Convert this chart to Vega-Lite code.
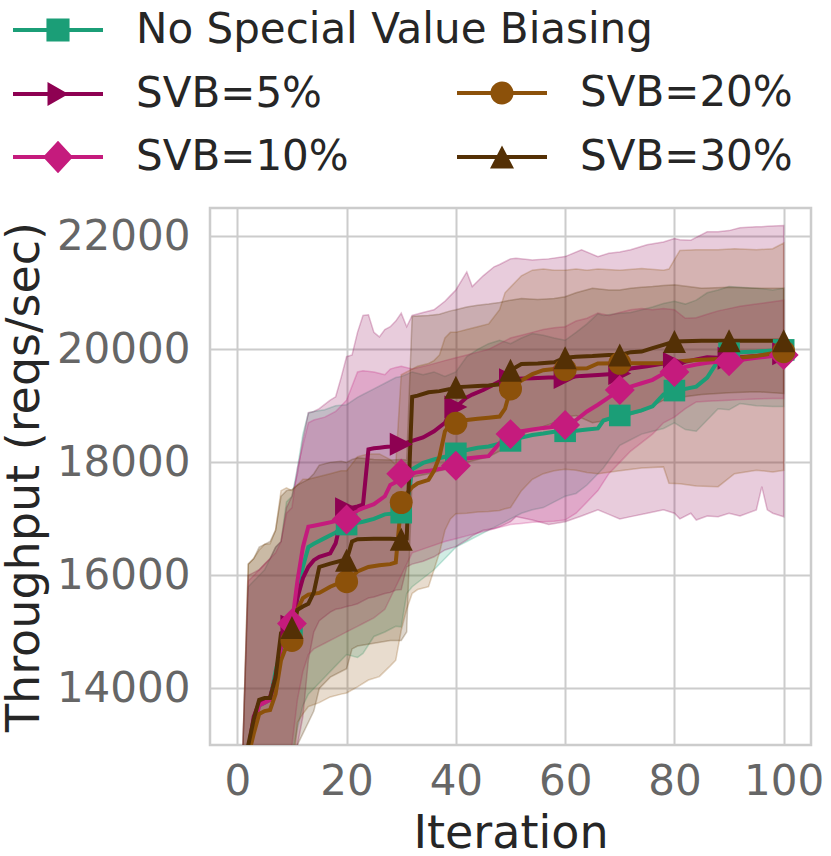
{
  "$schema": "https://vega.github.io/schema/vega-lite/v6.json",
  "width": 601,
  "height": 537,
  "autosize": "none",
  "padding": {"left": 210, "top": 208, "right": 20, "bottom": 111},
  "config": {
    "font": "DejaVu Sans",
    "view": {"stroke": "#cccccc", "strokeWidth": 2.5},
    "axis": {
      "grid": true, "gridColor": "#cccccc", "gridWidth": 2,
      "domain": false, "ticks": false,
      "labelFont": "DejaVu Sans", "labelFontSize": 42, "labelColor": "#666666",
      "titleFont": "DejaVu Sans", "titleFontSize": 46, "titleFontWeight": "normal", "titleColor": "#262626"
    },
    "legend": {
      "orient": "none", "padding": 0,
      "labelFont": "DejaVu Sans", "labelFontSize": 42, "labelColor": "#262626", "labelLimit": 1000,
      "symbolSize": 900, "symbolOffset": 37, "labelOffset": 57
    }
  },
  "data": {
    "values": [
      {"s": "No Special Value Biasing", "i": 0, "m": 10500, "lo": 7500, "hi": 11000},
      {"s": "No Special Value Biasing", "i": 1, "m": 12000, "lo": 9000, "hi": 12900},
      {"s": "No Special Value Biasing", "i": 2, "m": 12900, "lo": 9900, "hi": 15800},
      {"s": "No Special Value Biasing", "i": 3, "m": 13400, "lo": 10300, "hi": 15900},
      {"s": "No Special Value Biasing", "i": 4, "m": 13700, "lo": 10600, "hi": 16000},
      {"s": "No Special Value Biasing", "i": 5, "m": 13750, "lo": 10700, "hi": 16100},
      {"s": "No Special Value Biasing", "i": 6, "m": 13800, "lo": 10900, "hi": 16300},
      {"s": "No Special Value Biasing", "i": 7, "m": 14300, "lo": 11200, "hi": 16500},
      {"s": "No Special Value Biasing", "i": 8, "m": 14700, "lo": 11500, "hi": 16600},
      {"s": "No Special Value Biasing", "i": 9, "m": 14900, "lo": 12100, "hi": 17300},
      {"s": "No Special Value Biasing", "i": 10, "m": 15000, "lo": 12800, "hi": 17400},
      {"s": "No Special Value Biasing", "i": 11, "m": 15600, "lo": 13300, "hi": 17900},
      {"s": "No Special Value Biasing", "i": 12, "m": 16150, "lo": 13700, "hi": 18500},
      {"s": "No Special Value Biasing", "i": 13, "m": 16500, "lo": 13900, "hi": 18870},
      {"s": "No Special Value Biasing", "i": 14, "m": 16560, "lo": 14000, "hi": 18900},
      {"s": "No Special Value Biasing", "i": 16, "m": 16660, "lo": 14200, "hi": 18930},
      {"s": "No Special Value Biasing", "i": 18, "m": 16760, "lo": 14400, "hi": 19000},
      {"s": "No Special Value Biasing", "i": 20, "m": 16900, "lo": 14600, "hi": 19020},
      {"s": "No Special Value Biasing", "i": 22, "m": 16930, "lo": 14550, "hi": 19150},
      {"s": "No Special Value Biasing", "i": 23, "m": 16950, "lo": 14620, "hi": 19200},
      {"s": "No Special Value Biasing", "i": 25, "m": 17000, "lo": 14920, "hi": 19300},
      {"s": "No Special Value Biasing", "i": 27, "m": 17080, "lo": 15000, "hi": 19400},
      {"s": "No Special Value Biasing", "i": 29, "m": 17100, "lo": 15100, "hi": 19500},
      {"s": "No Special Value Biasing", "i": 30, "m": 17110, "lo": 15090, "hi": 19520},
      {"s": "No Special Value Biasing", "i": 31, "m": 17200, "lo": 15680, "hi": 19560},
      {"s": "No Special Value Biasing", "i": 32, "m": 17880, "lo": 15800, "hi": 19600},
      {"s": "No Special Value Biasing", "i": 34, "m": 17990, "lo": 15950, "hi": 19550},
      {"s": "No Special Value Biasing", "i": 36, "m": 18050, "lo": 16100, "hi": 19600},
      {"s": "No Special Value Biasing", "i": 38, "m": 18100, "lo": 16300, "hi": 19520},
      {"s": "No Special Value Biasing", "i": 40, "m": 18160, "lo": 16500, "hi": 19600},
      {"s": "No Special Value Biasing", "i": 42, "m": 18220, "lo": 16600, "hi": 19870},
      {"s": "No Special Value Biasing", "i": 44, "m": 18260, "lo": 16700, "hi": 20000},
      {"s": "No Special Value Biasing", "i": 46, "m": 18280, "lo": 16800, "hi": 20100},
      {"s": "No Special Value Biasing", "i": 48, "m": 18330, "lo": 16900, "hi": 20160},
      {"s": "No Special Value Biasing", "i": 50, "m": 18380, "lo": 17000, "hi": 20100},
      {"s": "No Special Value Biasing", "i": 52, "m": 18440, "lo": 17100, "hi": 20200},
      {"s": "No Special Value Biasing", "i": 54, "m": 18485, "lo": 17160, "hi": 20280},
      {"s": "No Special Value Biasing", "i": 56, "m": 18510, "lo": 17200, "hi": 20250},
      {"s": "No Special Value Biasing", "i": 58, "m": 18540, "lo": 17300, "hi": 20200},
      {"s": "No Special Value Biasing", "i": 60, "m": 18550, "lo": 17400, "hi": 20160},
      {"s": "No Special Value Biasing", "i": 62, "m": 18560, "lo": 17450, "hi": 20300},
      {"s": "No Special Value Biasing", "i": 64, "m": 18580, "lo": 17600, "hi": 20450},
      {"s": "No Special Value Biasing", "i": 66, "m": 18600, "lo": 17800, "hi": 20630},
      {"s": "No Special Value Biasing", "i": 67, "m": 18740, "lo": 17900, "hi": 20600},
      {"s": "No Special Value Biasing", "i": 70, "m": 18830, "lo": 18300, "hi": 20640},
      {"s": "No Special Value Biasing", "i": 72, "m": 18870, "lo": 18400, "hi": 20650},
      {"s": "No Special Value Biasing", "i": 74, "m": 18920, "lo": 18500, "hi": 20700},
      {"s": "No Special Value Biasing", "i": 76, "m": 18990, "lo": 18550, "hi": 20750},
      {"s": "No Special Value Biasing", "i": 78, "m": 19200, "lo": 18600, "hi": 20810},
      {"s": "No Special Value Biasing", "i": 80, "m": 19270, "lo": 18700, "hi": 20850},
      {"s": "No Special Value Biasing", "i": 82, "m": 19300, "lo": 18580, "hi": 20800},
      {"s": "No Special Value Biasing", "i": 84, "m": 19340, "lo": 18550, "hi": 20870},
      {"s": "No Special Value Biasing", "i": 86, "m": 19500, "lo": 18750, "hi": 21000},
      {"s": "No Special Value Biasing", "i": 88, "m": 19800, "lo": 18950, "hi": 21050},
      {"s": "No Special Value Biasing", "i": 90, "m": 19930, "lo": 18930, "hi": 21110},
      {"s": "No Special Value Biasing", "i": 92, "m": 19950, "lo": 19040, "hi": 21100},
      {"s": "No Special Value Biasing", "i": 95, "m": 19960, "lo": 19000, "hi": 21080},
      {"s": "No Special Value Biasing", "i": 98, "m": 19980, "lo": 18990, "hi": 21050},
      {"s": "No Special Value Biasing", "i": 100, "m": 19990, "lo": 18990, "hi": 21080},

      {"s": "SVB=5%", "i": 0, "m": 10500, "lo": 7500, "hi": 11000},
      {"s": "SVB=5%", "i": 1, "m": 12100, "lo": 9000, "hi": 12900},
      {"s": "SVB=5%", "i": 2, "m": 12900, "lo": 9800, "hi": 16000},
      {"s": "SVB=5%", "i": 3, "m": 13500, "lo": 10200, "hi": 16050},
      {"s": "SVB=5%", "i": 4, "m": 13750, "lo": 10500, "hi": 16100},
      {"s": "SVB=5%", "i": 5, "m": 13800, "lo": 10700, "hi": 16200},
      {"s": "SVB=5%", "i": 6, "m": 13850, "lo": 11000, "hi": 16300},
      {"s": "SVB=5%", "i": 7, "m": 14200, "lo": 11500, "hi": 16500},
      {"s": "SVB=5%", "i": 8, "m": 14750, "lo": 12000, "hi": 16600},
      {"s": "SVB=5%", "i": 9, "m": 14950, "lo": 12300, "hi": 17200},
      {"s": "SVB=5%", "i": 10, "m": 15100, "lo": 12600, "hi": 17400},
      {"s": "SVB=5%", "i": 11, "m": 15600, "lo": 13000, "hi": 17800},
      {"s": "SVB=5%", "i": 12, "m": 15950, "lo": 13500, "hi": 18400},
      {"s": "SVB=5%", "i": 13, "m": 16150, "lo": 14500, "hi": 18880},
      {"s": "SVB=5%", "i": 14, "m": 16270, "lo": 15000, "hi": 18900},
      {"s": "SVB=5%", "i": 15, "m": 16330, "lo": 15200, "hi": 18950},
      {"s": "SVB=5%", "i": 17, "m": 16390, "lo": 15350, "hi": 19100},
      {"s": "SVB=5%", "i": 18, "m": 16570, "lo": 15400, "hi": 19160},
      {"s": "SVB=5%", "i": 19, "m": 16980, "lo": 15420, "hi": 19500},
      {"s": "SVB=5%", "i": 20, "m": 17180, "lo": 15450, "hi": 19870},
      {"s": "SVB=5%", "i": 21, "m": 17200, "lo": 15470, "hi": 19900},
      {"s": "SVB=5%", "i": 22, "m": 17220, "lo": 15500, "hi": 20300},
      {"s": "SVB=5%", "i": 23, "m": 17250, "lo": 15550, "hi": 20600},
      {"s": "SVB=5%", "i": 24, "m": 18230, "lo": 15600, "hi": 20610},
      {"s": "SVB=5%", "i": 25, "m": 18250, "lo": 15620, "hi": 20300},
      {"s": "SVB=5%", "i": 26, "m": 18260, "lo": 15650, "hi": 20220},
      {"s": "SVB=5%", "i": 27, "m": 18270, "lo": 15680, "hi": 20350},
      {"s": "SVB=5%", "i": 28, "m": 18280, "lo": 15700, "hi": 20400},
      {"s": "SVB=5%", "i": 29, "m": 18300, "lo": 15740, "hi": 20500},
      {"s": "SVB=5%", "i": 30, "m": 18320, "lo": 15750, "hi": 20640},
      {"s": "SVB=5%", "i": 31, "m": 18350, "lo": 16150, "hi": 20400},
      {"s": "SVB=5%", "i": 32, "m": 18380, "lo": 16200, "hi": 20600},
      {"s": "SVB=5%", "i": 34, "m": 18440, "lo": 16250, "hi": 20650},
      {"s": "SVB=5%", "i": 36, "m": 18550, "lo": 16330, "hi": 20700},
      {"s": "SVB=5%", "i": 38, "m": 18700, "lo": 16450, "hi": 20850},
      {"s": "SVB=5%", "i": 39, "m": 18900, "lo": 16480, "hi": 20950},
      {"s": "SVB=5%", "i": 40, "m": 18980, "lo": 16510, "hi": 21050},
      {"s": "SVB=5%", "i": 42, "m": 19150, "lo": 16630, "hi": 21370},
      {"s": "SVB=5%", "i": 43, "m": 19200, "lo": 16700, "hi": 21110},
      {"s": "SVB=5%", "i": 45, "m": 19280, "lo": 16800, "hi": 21300},
      {"s": "SVB=5%", "i": 47, "m": 19380, "lo": 16830, "hi": 21460},
      {"s": "SVB=5%", "i": 48, "m": 19430, "lo": 16860, "hi": 21500},
      {"s": "SVB=5%", "i": 50, "m": 19460, "lo": 16950, "hi": 21600},
      {"s": "SVB=5%", "i": 51, "m": 19480, "lo": 17040, "hi": 21610},
      {"s": "SVB=5%", "i": 54, "m": 19490, "lo": 16980, "hi": 21580},
      {"s": "SVB=5%", "i": 57, "m": 19500, "lo": 16900, "hi": 21600},
      {"s": "SVB=5%", "i": 60, "m": 19500, "lo": 16950, "hi": 21640},
      {"s": "SVB=5%", "i": 63, "m": 19530, "lo": 17050, "hi": 21760},
      {"s": "SVB=5%", "i": 66, "m": 19546, "lo": 17160, "hi": 21640},
      {"s": "SVB=5%", "i": 68, "m": 19560, "lo": 17080, "hi": 21700},
      {"s": "SVB=5%", "i": 70, "m": 19570, "lo": 17000, "hi": 21720},
      {"s": "SVB=5%", "i": 72, "m": 19660, "lo": 17040, "hi": 21760},
      {"s": "SVB=5%", "i": 75, "m": 19700, "lo": 17100, "hi": 21850},
      {"s": "SVB=5%", "i": 78, "m": 19750, "lo": 17160, "hi": 21900},
      {"s": "SVB=5%", "i": 80, "m": 19750, "lo": 17100, "hi": 21960},
      {"s": "SVB=5%", "i": 81, "m": 19760, "lo": 17000, "hi": 21940},
      {"s": "SVB=5%", "i": 83, "m": 19800, "lo": 17100, "hi": 21930},
      {"s": "SVB=5%", "i": 84, "m": 19820, "lo": 16980, "hi": 21980},
      {"s": "SVB=5%", "i": 86, "m": 19860, "lo": 17050, "hi": 22080},
      {"s": "SVB=5%", "i": 88, "m": 19850, "lo": 17040, "hi": 22080},
      {"s": "SVB=5%", "i": 90, "m": 19840, "lo": 17100, "hi": 22100},
      {"s": "SVB=5%", "i": 92, "m": 19860, "lo": 17050, "hi": 22150},
      {"s": "SVB=5%", "i": 95, "m": 19880, "lo": 17160, "hi": 22170},
      {"s": "SVB=5%", "i": 96, "m": 19890, "lo": 17570, "hi": 22170},
      {"s": "SVB=5%", "i": 97, "m": 19895, "lo": 17160, "hi": 22175},
      {"s": "SVB=5%", "i": 98, "m": 19900, "lo": 17100, "hi": 22180},
      {"s": "SVB=5%", "i": 100, "m": 19920, "lo": 17040, "hi": 22190},

      {"s": "SVB=10%", "i": 0, "m": 10500, "lo": 7500, "hi": 11000},
      {"s": "SVB=10%", "i": 1, "m": 12000, "lo": 9000, "hi": 12900},
      {"s": "SVB=10%", "i": 2, "m": 12800, "lo": 9700, "hi": 15900},
      {"s": "SVB=10%", "i": 3, "m": 13300, "lo": 10100, "hi": 16000},
      {"s": "SVB=10%", "i": 4, "m": 13700, "lo": 10500, "hi": 16100},
      {"s": "SVB=10%", "i": 5, "m": 13750, "lo": 10700, "hi": 16200},
      {"s": "SVB=10%", "i": 6, "m": 13800, "lo": 11000, "hi": 16300},
      {"s": "SVB=10%", "i": 7, "m": 14200, "lo": 11400, "hi": 16400},
      {"s": "SVB=10%", "i": 8, "m": 14750, "lo": 11800, "hi": 16600},
      {"s": "SVB=10%", "i": 9, "m": 15000, "lo": 12400, "hi": 17100},
      {"s": "SVB=10%", "i": 10, "m": 15150, "lo": 13000, "hi": 17200},
      {"s": "SVB=10%", "i": 11, "m": 15900, "lo": 13800, "hi": 17900},
      {"s": "SVB=10%", "i": 12, "m": 16500, "lo": 14300, "hi": 18300},
      {"s": "SVB=10%", "i": 13, "m": 16860, "lo": 14600, "hi": 18700},
      {"s": "SVB=10%", "i": 14, "m": 16880, "lo": 14700, "hi": 18750},
      {"s": "SVB=10%", "i": 16, "m": 16920, "lo": 14800, "hi": 18800},
      {"s": "SVB=10%", "i": 18, "m": 16960, "lo": 14900, "hi": 18900},
      {"s": "SVB=10%", "i": 20, "m": 16990, "lo": 15000, "hi": 19100},
      {"s": "SVB=10%", "i": 22, "m": 17150, "lo": 15100, "hi": 19600},
      {"s": "SVB=10%", "i": 23, "m": 17190, "lo": 15150, "hi": 19620},
      {"s": "SVB=10%", "i": 25, "m": 17260, "lo": 15250, "hi": 19600},
      {"s": "SVB=10%", "i": 27, "m": 17400, "lo": 15400, "hi": 19550},
      {"s": "SVB=10%", "i": 28, "m": 17600, "lo": 15600, "hi": 19650},
      {"s": "SVB=10%", "i": 29, "m": 17650, "lo": 15800, "hi": 19680},
      {"s": "SVB=10%", "i": 30, "m": 17800, "lo": 16000, "hi": 19700},
      {"s": "SVB=10%", "i": 32, "m": 17810, "lo": 16400, "hi": 19650},
      {"s": "SVB=10%", "i": 35, "m": 17850, "lo": 16500, "hi": 19720},
      {"s": "SVB=10%", "i": 38, "m": 17900, "lo": 16600, "hi": 19800},
      {"s": "SVB=10%", "i": 40, "m": 17940, "lo": 16650, "hi": 19850},
      {"s": "SVB=10%", "i": 42, "m": 18070, "lo": 16700, "hi": 19900},
      {"s": "SVB=10%", "i": 44, "m": 18090, "lo": 16750, "hi": 19950},
      {"s": "SVB=10%", "i": 46, "m": 18110, "lo": 16800, "hi": 20000},
      {"s": "SVB=10%", "i": 48, "m": 18340, "lo": 16850, "hi": 20100},
      {"s": "SVB=10%", "i": 50, "m": 18500, "lo": 16900, "hi": 20200},
      {"s": "SVB=10%", "i": 52, "m": 18550, "lo": 16920, "hi": 20250},
      {"s": "SVB=10%", "i": 54, "m": 18580, "lo": 16940, "hi": 20300},
      {"s": "SVB=10%", "i": 56, "m": 18610, "lo": 16950, "hi": 20350},
      {"s": "SVB=10%", "i": 58, "m": 18630, "lo": 16960, "hi": 20380},
      {"s": "SVB=10%", "i": 60, "m": 18660, "lo": 16980, "hi": 20400},
      {"s": "SVB=10%", "i": 62, "m": 18750, "lo": 17100, "hi": 20500},
      {"s": "SVB=10%", "i": 64, "m": 18900, "lo": 17300, "hi": 20550},
      {"s": "SVB=10%", "i": 66, "m": 19020, "lo": 17500, "hi": 20640},
      {"s": "SVB=10%", "i": 68, "m": 19150, "lo": 17800, "hi": 20600},
      {"s": "SVB=10%", "i": 70, "m": 19280, "lo": 18000, "hi": 20650},
      {"s": "SVB=10%", "i": 72, "m": 19340, "lo": 18200, "hi": 20700},
      {"s": "SVB=10%", "i": 74, "m": 19400, "lo": 18350, "hi": 20720},
      {"s": "SVB=10%", "i": 76, "m": 19460, "lo": 18500, "hi": 20700},
      {"s": "SVB=10%", "i": 78, "m": 19570, "lo": 18700, "hi": 20720},
      {"s": "SVB=10%", "i": 80, "m": 19600, "lo": 18800, "hi": 20700},
      {"s": "SVB=10%", "i": 82, "m": 19690, "lo": 18950, "hi": 20550},
      {"s": "SVB=10%", "i": 84, "m": 19730, "lo": 19070, "hi": 20560},
      {"s": "SVB=10%", "i": 86, "m": 19760, "lo": 19080, "hi": 20620},
      {"s": "SVB=10%", "i": 88, "m": 19780, "lo": 19090, "hi": 20680},
      {"s": "SVB=10%", "i": 90, "m": 19790, "lo": 19100, "hi": 20720},
      {"s": "SVB=10%", "i": 92, "m": 19810, "lo": 19110, "hi": 20760},
      {"s": "SVB=10%", "i": 95, "m": 19850, "lo": 19120, "hi": 20800},
      {"s": "SVB=10%", "i": 98, "m": 19880, "lo": 19130, "hi": 20840},
      {"s": "SVB=10%", "i": 100, "m": 19900, "lo": 19130, "hi": 20870},

      {"s": "SVB=20%", "i": 0, "m": 10300, "lo": 7500, "hi": 11000},
      {"s": "SVB=20%", "i": 1, "m": 11900, "lo": 8800, "hi": 12900},
      {"s": "SVB=20%", "i": 2, "m": 12800, "lo": 9700, "hi": 16200},
      {"s": "SVB=20%", "i": 3, "m": 13200, "lo": 10100, "hi": 16300},
      {"s": "SVB=20%", "i": 4, "m": 13550, "lo": 10400, "hi": 16450},
      {"s": "SVB=20%", "i": 5, "m": 13600, "lo": 10600, "hi": 16550},
      {"s": "SVB=20%", "i": 6, "m": 13620, "lo": 10700, "hi": 16560},
      {"s": "SVB=20%", "i": 7, "m": 13900, "lo": 11000, "hi": 16800},
      {"s": "SVB=20%", "i": 8, "m": 14500, "lo": 11800, "hi": 17500},
      {"s": "SVB=20%", "i": 9, "m": 14750, "lo": 12200, "hi": 17550},
      {"s": "SVB=20%", "i": 10, "m": 14850, "lo": 12300, "hi": 17500},
      {"s": "SVB=20%", "i": 11, "m": 15400, "lo": 13400, "hi": 17600},
      {"s": "SVB=20%", "i": 12, "m": 15600, "lo": 13550, "hi": 17700},
      {"s": "SVB=20%", "i": 13, "m": 15660, "lo": 13680, "hi": 17700},
      {"s": "SVB=20%", "i": 15, "m": 15690, "lo": 13750, "hi": 17750},
      {"s": "SVB=20%", "i": 17, "m": 15800, "lo": 13850, "hi": 17800},
      {"s": "SVB=20%", "i": 19, "m": 15880, "lo": 13900, "hi": 17850},
      {"s": "SVB=20%", "i": 20, "m": 15890, "lo": 13920, "hi": 17850},
      {"s": "SVB=20%", "i": 22, "m": 16070, "lo": 14030, "hi": 18100},
      {"s": "SVB=20%", "i": 24, "m": 16150, "lo": 14150, "hi": 18150},
      {"s": "SVB=20%", "i": 26, "m": 16180, "lo": 14210, "hi": 18150},
      {"s": "SVB=20%", "i": 28, "m": 16200, "lo": 14400, "hi": 18050},
      {"s": "SVB=20%", "i": 29, "m": 16230, "lo": 14500, "hi": 17960},
      {"s": "SVB=20%", "i": 30, "m": 17290, "lo": 15030, "hi": 19550},
      {"s": "SVB=20%", "i": 31, "m": 17450, "lo": 15400, "hi": 19600},
      {"s": "SVB=20%", "i": 32, "m": 17560, "lo": 15680, "hi": 19650},
      {"s": "SVB=20%", "i": 33, "m": 17630, "lo": 15750, "hi": 19700},
      {"s": "SVB=20%", "i": 35, "m": 17690, "lo": 15800, "hi": 19750},
      {"s": "SVB=20%", "i": 36, "m": 17850, "lo": 16100, "hi": 19800},
      {"s": "SVB=20%", "i": 37, "m": 18100, "lo": 16400, "hi": 19900},
      {"s": "SVB=20%", "i": 38, "m": 18550, "lo": 16800, "hi": 20200},
      {"s": "SVB=20%", "i": 39, "m": 18680, "lo": 17000, "hi": 20300},
      {"s": "SVB=20%", "i": 40, "m": 18690, "lo": 17090, "hi": 20300},
      {"s": "SVB=20%", "i": 42, "m": 18750, "lo": 17100, "hi": 20350},
      {"s": "SVB=20%", "i": 44, "m": 18770, "lo": 17120, "hi": 20400},
      {"s": "SVB=20%", "i": 46, "m": 18790, "lo": 17130, "hi": 20450},
      {"s": "SVB=20%", "i": 48, "m": 18810, "lo": 17150, "hi": 20700},
      {"s": "SVB=20%", "i": 49, "m": 18950, "lo": 17180, "hi": 21000},
      {"s": "SVB=20%", "i": 50, "m": 19300, "lo": 17200, "hi": 21100},
      {"s": "SVB=20%", "i": 52, "m": 19450, "lo": 17500, "hi": 21300},
      {"s": "SVB=20%", "i": 54, "m": 19560, "lo": 17700, "hi": 21400},
      {"s": "SVB=20%", "i": 56, "m": 19630, "lo": 17800, "hi": 21420},
      {"s": "SVB=20%", "i": 58, "m": 19650, "lo": 17850, "hi": 21400},
      {"s": "SVB=20%", "i": 60, "m": 19640, "lo": 17880, "hi": 21400},
      {"s": "SVB=20%", "i": 62, "m": 19660, "lo": 17860, "hi": 21420},
      {"s": "SVB=20%", "i": 64, "m": 19664, "lo": 17820, "hi": 21400},
      {"s": "SVB=20%", "i": 66, "m": 19750, "lo": 17800, "hi": 21420},
      {"s": "SVB=20%", "i": 70, "m": 19752, "lo": 17850, "hi": 21400},
      {"s": "SVB=20%", "i": 74, "m": 19752, "lo": 17900, "hi": 21430},
      {"s": "SVB=20%", "i": 78, "m": 19752, "lo": 17920, "hi": 21400},
      {"s": "SVB=20%", "i": 79, "m": 19752, "lo": 17630, "hi": 21420},
      {"s": "SVB=20%", "i": 81, "m": 19790, "lo": 17620, "hi": 21750},
      {"s": "SVB=20%", "i": 84, "m": 19810, "lo": 17580, "hi": 21760},
      {"s": "SVB=20%", "i": 88, "m": 19830, "lo": 17570, "hi": 21760},
      {"s": "SVB=20%", "i": 91, "m": 19841, "lo": 17800, "hi": 21780},
      {"s": "SVB=20%", "i": 95, "m": 19880, "lo": 17860, "hi": 21760},
      {"s": "SVB=20%", "i": 98, "m": 19930, "lo": 17830, "hi": 21780},
      {"s": "SVB=20%", "i": 100, "m": 19959, "lo": 17860, "hi": 21880},

      {"s": "SVB=30%", "i": 0, "m": 10700, "lo": 7500, "hi": 11000},
      {"s": "SVB=30%", "i": 1, "m": 12300, "lo": 9000, "hi": 12900},
      {"s": "SVB=30%", "i": 2, "m": 13000, "lo": 9800, "hi": 16200},
      {"s": "SVB=30%", "i": 3, "m": 13450, "lo": 10500, "hi": 16300},
      {"s": "SVB=30%", "i": 4, "m": 13800, "lo": 11000, "hi": 16500},
      {"s": "SVB=30%", "i": 5, "m": 13830, "lo": 11200, "hi": 16550},
      {"s": "SVB=30%", "i": 6, "m": 13830, "lo": 11300, "hi": 16600},
      {"s": "SVB=30%", "i": 7, "m": 14200, "lo": 11700, "hi": 16800},
      {"s": "SVB=30%", "i": 8, "m": 14980, "lo": 12300, "hi": 17400},
      {"s": "SVB=30%", "i": 9, "m": 15020, "lo": 12500, "hi": 17500},
      {"s": "SVB=30%", "i": 10, "m": 15080, "lo": 12600, "hi": 17520},
      {"s": "SVB=30%", "i": 11, "m": 15390, "lo": 13000, "hi": 17600},
      {"s": "SVB=30%", "i": 12, "m": 15450, "lo": 13200, "hi": 17650},
      {"s": "SVB=30%", "i": 13, "m": 15500, "lo": 13400, "hi": 17700},
      {"s": "SVB=30%", "i": 14, "m": 15700, "lo": 13600, "hi": 17800},
      {"s": "SVB=30%", "i": 15, "m": 16150, "lo": 14000, "hi": 17950},
      {"s": "SVB=30%", "i": 17, "m": 16210, "lo": 14200, "hi": 18000},
      {"s": "SVB=30%", "i": 19, "m": 16260, "lo": 14300, "hi": 18020},
      {"s": "SVB=30%", "i": 20, "m": 16270, "lo": 14350, "hi": 18000},
      {"s": "SVB=30%", "i": 21, "m": 16600, "lo": 14700, "hi": 18050},
      {"s": "SVB=30%", "i": 22, "m": 16640, "lo": 14750, "hi": 18080},
      {"s": "SVB=30%", "i": 25, "m": 16650, "lo": 14800, "hi": 18050},
      {"s": "SVB=30%", "i": 28, "m": 16650, "lo": 14850, "hi": 18040},
      {"s": "SVB=30%", "i": 30, "m": 16640, "lo": 14850, "hi": 18050},
      {"s": "SVB=30%", "i": 31, "m": 16650, "lo": 15000, "hi": 18040},
      {"s": "SVB=30%", "i": 32, "m": 19160, "lo": 17740, "hi": 20580},
      {"s": "SVB=30%", "i": 33, "m": 19180, "lo": 17760, "hi": 20590},
      {"s": "SVB=30%", "i": 35, "m": 19240, "lo": 17800, "hi": 20600},
      {"s": "SVB=30%", "i": 37, "m": 19260, "lo": 17850, "hi": 20620},
      {"s": "SVB=30%", "i": 39, "m": 19300, "lo": 17900, "hi": 20680},
      {"s": "SVB=30%", "i": 40, "m": 19330, "lo": 17960, "hi": 20700},
      {"s": "SVB=30%", "i": 42, "m": 19340, "lo": 18000, "hi": 20750},
      {"s": "SVB=30%", "i": 44, "m": 19350, "lo": 18050, "hi": 20780},
      {"s": "SVB=30%", "i": 46, "m": 19360, "lo": 18100, "hi": 20800},
      {"s": "SVB=30%", "i": 48, "m": 19380, "lo": 18200, "hi": 20830},
      {"s": "SVB=30%", "i": 49, "m": 19500, "lo": 18300, "hi": 20850},
      {"s": "SVB=30%", "i": 50, "m": 19630, "lo": 18390, "hi": 20870},
      {"s": "SVB=30%", "i": 52, "m": 19740, "lo": 18500, "hi": 20900},
      {"s": "SVB=30%", "i": 55, "m": 19750, "lo": 18600, "hi": 20880},
      {"s": "SVB=30%", "i": 58, "m": 19770, "lo": 18700, "hi": 20900},
      {"s": "SVB=30%", "i": 60, "m": 19850, "lo": 18800, "hi": 20930},
      {"s": "SVB=30%", "i": 62, "m": 19870, "lo": 18830, "hi": 21000},
      {"s": "SVB=30%", "i": 65, "m": 19880, "lo": 18700, "hi": 21080},
      {"s": "SVB=30%", "i": 68, "m": 19900, "lo": 18750, "hi": 21050},
      {"s": "SVB=30%", "i": 70, "m": 19900, "lo": 18750, "hi": 21050},
      {"s": "SVB=30%", "i": 72, "m": 19950, "lo": 18850, "hi": 21080},
      {"s": "SVB=30%", "i": 74, "m": 19960, "lo": 18900, "hi": 21100},
      {"s": "SVB=30%", "i": 76, "m": 20020, "lo": 19000, "hi": 21110},
      {"s": "SVB=30%", "i": 78, "m": 20080, "lo": 19100, "hi": 21130},
      {"s": "SVB=30%", "i": 80, "m": 20140, "lo": 19140, "hi": 21140},
      {"s": "SVB=30%", "i": 85, "m": 20150, "lo": 19200, "hi": 21080},
      {"s": "SVB=30%", "i": 90, "m": 20150, "lo": 19230, "hi": 21100},
      {"s": "SVB=30%", "i": 95, "m": 20150, "lo": 19250, "hi": 21080},
      {"s": "SVB=30%", "i": 100, "m": 20150, "lo": 19220, "hi": 21080}
    ]
  },
  "encoding": {
    "x": {
      "field": "i", "type": "quantitative",
      "scale": {"domain": [-5, 105], "nice": false, "zero": false},
      "axis": {"values": [0, 20, 40, 60, 80, 100], "title": "Iteration", "labelPadding": 16, "titlePadding": 9, "labelFlush": false}
    }
  },
  "layer": [
    {
      "mark": {"type": "area", "clip": true, "fillOpacity": 0.2, "strokeOpacity": 0.25, "strokeWidth": 1.5},
      "encoding": {
        "y": {
          "field": "lo", "type": "quantitative",
          "scale": {"domain": [13000, 22500], "nice": false, "zero": false},
          "axis": {"values": [14000, 16000, 18000, 20000, 22000], "format": "d", "title": "Throughput (reqs/sec)", "labelPadding": 20, "titlePadding": 8}
        },
        "y2": {"field": "hi"},
        "color": {
          "field": "s", "type": "nominal", "legend": null,
          "scale": {
            "domain": ["No Special Value Biasing", "SVB=5%", "SVB=10%", "SVB=20%", "SVB=30%"],
            "range": ["#1b9e77", "#8e0152", "#c51b7d", "#8c510a", "#543005"]
          }
        },
        "stroke": {
          "field": "s", "type": "nominal", "legend": null,
          "scale": {
            "domain": ["No Special Value Biasing", "SVB=5%", "SVB=10%", "SVB=20%", "SVB=30%"],
            "range": ["#1b9e77", "#8e0152", "#c51b7d", "#8c510a", "#543005"]
          }
        }
      }
    },
    {
      "mark": {"type": "line", "clip": true, "strokeWidth": 4},
      "encoding": {
        "y": {"field": "m", "type": "quantitative", "title": "Throughput (reqs/sec)"},
        "color": {
          "field": "s", "type": "nominal", "legend": null,
          "scale": {
            "domain": ["No Special Value Biasing", "SVB=5%", "SVB=10%", "SVB=20%", "SVB=30%"],
            "range": ["#1b9e77", "#8e0152", "#c51b7d", "#8c510a", "#543005"]
          }
        }
      }
    },
    {
      "transform": [{"filter": "datum.s === 'No Special Value Biasing' && datum.i % 10 === 0"}],
      "mark": {"type": "point", "filled": true, "clip": true, "opacity": 1, "size": 529, "shape": "M-0.94,-0.94H0.94V0.94H-0.94Z"},
      "encoding": {
        "y": {"field": "m", "type": "quantitative", "title": "Throughput (reqs/sec)"},
        "color": {
          "field": "s", "type": "nominal",
          "scale": {"domain": ["No Special Value Biasing"], "range": ["#1b9e77"]},
          "legend": {
            "title": null, "legendX": -210, "legendY": -199,
            "symbolType": "M-3,-0.13H3V0.13H-3ZM-0.77,-0.77H0.77V0.77H-0.77Z"
          }
        }
      }
    },
    {
      "transform": [{"filter": "datum.s === 'SVB=5%' && datum.i % 10 === 0"}],
      "mark": {"type": "point", "filled": true, "clip": true, "opacity": 1, "size": 529, "shape": "M1,0L-1,-1L-1,1Z"},
      "encoding": {
        "y": {"field": "m", "type": "quantitative", "title": "Throughput (reqs/sec)"},
        "color": {
          "field": "s", "type": "nominal",
          "scale": {"domain": ["SVB=5%"], "range": ["#8e0152"]},
          "legend": {
            "title": null, "legendX": -210, "legendY": -135,
            "symbolType": "M-3,-0.13H3V0.13H-3ZM-0.7,-0.8L0.7,0L-0.7,0.8Z"
          }
        }
      }
    },
    {
      "transform": [{"filter": "datum.s === 'SVB=10%' && datum.i % 10 === 0"}],
      "mark": {"type": "point", "filled": true, "clip": true, "opacity": 1, "size": 529, "shape": "M0,-1.3L1.3,0L0,1.3L-1.3,0Z"},
      "encoding": {
        "y": {"field": "m", "type": "quantitative", "title": "Throughput (reqs/sec)"},
        "color": {
          "field": "s", "type": "nominal",
          "scale": {"domain": ["SVB=10%"], "range": ["#c51b7d"]},
          "legend": {
            "title": null, "legendX": -210, "legendY": -72,
            "symbolType": "M-3,-0.13H3V0.13H-3ZM0,-1.08L1,0L0,1.08L-1,0Z"
          }
        }
      }
    },
    {
      "transform": [{"filter": "datum.s === 'SVB=20%' && datum.i % 10 === 0"}],
      "mark": {"type": "point", "filled": true, "clip": true, "opacity": 1, "size": 529, "shape": "circle"},
      "encoding": {
        "y": {"field": "m", "type": "quantitative", "title": "Throughput (reqs/sec)"},
        "color": {
          "field": "s", "type": "nominal",
          "scale": {"domain": ["SVB=20%"], "range": ["#8c510a"]},
          "legend": {
            "title": null, "legendX": 234, "legendY": -136,
            "symbolType": "M-3,-0.13H3V0.13H-3ZM-0.77,0A0.77,0.77,0,1,1,0.77,0A0.77,0.77,0,1,1,-0.77,0Z"
          }
        }
      }
    },
    {
      "transform": [{"filter": "datum.s === 'SVB=30%' && datum.i % 10 === 0"}],
      "mark": {"type": "point", "filled": true, "clip": true, "opacity": 1, "size": 529, "shape": "M0,-1L1,1L-1,1Z"},
      "encoding": {
        "y": {"field": "m", "type": "quantitative", "title": "Throughput (reqs/sec)"},
        "color": {
          "field": "s", "type": "nominal",
          "scale": {"domain": ["SVB=30%"], "range": ["#543005"]},
          "legend": {
            "title": null, "legendX": 234, "legendY": -72,
            "symbolType": "M-3,-0.13H3V0.13H-3ZM0,-0.77L0.8,0.77L-0.8,0.77Z"
          }
        }
      }
    }
  ],
  "resolve": {"scale": {"color": "independent"}, "legend": {"color": "independent"}}
}
